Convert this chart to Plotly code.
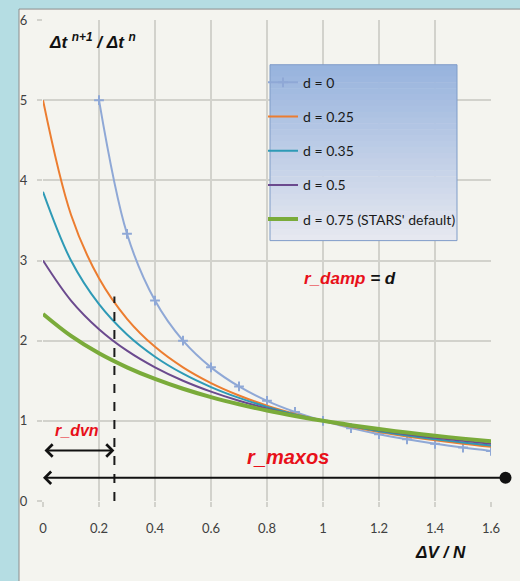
import plotly.graph_objects as go

# ---------------- data ----------------
x_d0 = [0.2, 0.3, 0.4, 0.5, 0.6, 0.7, 0.8, 0.9, 1.0, 1.1, 1.2, 1.3, 1.4, 1.5, 1.6]
y_d0 = [5.0, 3.333, 2.5, 2.0, 1.667, 1.429, 1.25, 1.111, 1.0, 0.909, 0.833, 0.769, 0.714, 0.667, 0.625]

x_all = [0.0, 0.1, 0.2, 0.3, 0.4, 0.5, 0.6, 0.7, 0.8, 0.9, 1.0, 1.1, 1.2, 1.3, 1.4, 1.5, 1.6]
y_d025 = [5.0, 3.571, 2.778, 2.273, 1.923, 1.667, 1.471, 1.316, 1.19, 1.087, 1.0, 0.926, 0.862, 0.806, 0.758, 0.714, 0.676]
y_d035 = [3.857, 3.0, 2.455, 2.077, 1.8, 1.588, 1.421, 1.286, 1.174, 1.08, 1.0, 0.931, 0.871, 0.818, 0.771, 0.73, 0.692]
y_d05 = [3.0, 2.5, 2.143, 1.875, 1.667, 1.5, 1.364, 1.25, 1.154, 1.071, 1.0, 0.9375, 0.882, 0.833, 0.789, 0.75, 0.714]
y_d075 = [2.333, 2.059, 1.842, 1.667, 1.522, 1.4, 1.296, 1.207, 1.129, 1.061, 1.0, 0.946, 0.897, 0.854, 0.814, 0.778, 0.745]

series_names = ["d = 0", "d = 0.25", "d = 0.35", "d = 0.5", "d = 0.75 (STARS' default)"]

x_ticks = [0, 0.2, 0.4, 0.6, 0.8, 1, 1.2, 1.4, 1.6]
x_tick_labels = ["0", "0.2", "0.4", "0.6", "0.8", "1", "1.2", "1.4", "1.6"]
y_ticks = [0, 1, 2, 3, 4, 5, 6]

r_dvn_x = 0.255
r_dvn_arrow_y = 0.63
r_maxos_y = 0.29

# ---------------- figure ----------------
W, H = 520, 581
ML, MR, MT, MB = 43, 29, 17, 80
PW, PH = W - ML - MR, H - MT - MB


def px2paper_x(px):
    return (px - ML) / PW


def px2paper_y(py):
    return 1 - (py - MT) / PH


font_fam = "Lato, 'Open Sans', sans-serif"
ital_fam = "'Liberation Sans', Arial, sans-serif"

fig = go.Figure()

fig.add_trace(go.Scatter(
    x=x_d0, y=y_d0, name=series_names[0], mode="lines+markers",
    line=dict(color="#8fa8d6", width=2, shape="spline"),
    marker=dict(symbol="cross-thin-open", size=7, line=dict(color="#8fa8d6", width=2)),
    legendgroup="g0",
))
colors = ["#ec7d30", "#2e9ab6", "#6b4a8e", "#7aab3a"]
widths = [2, 2, 2, 4]
for name, ys, c, w, g in zip(series_names[1:], [y_d025, y_d035, y_d05, y_d075], colors, widths,
                             ["g1", "g2", "g3", "g4"]):
    fig.add_trace(go.Scatter(
        x=x_all, y=ys, name=name, mode="lines",
        line=dict(color=c, width=w, shape="spline"),
        legendgroup=g,
    ))

shapes = []
# off-white panel
shapes.append(dict(type="rect", xref="paper", yref="paper",
                   x0=px2paper_x(19), x1=px2paper_x(530), y0=px2paper_y(590), y1=px2paper_y(6),
                   fillcolor="#f4f4ef", line=dict(color="#8c8c8c", width=1), layer="below"))

# legend box with vertical gradient
lx0, lx1, ly0, ly1 = 270, 457, 62, 239
n = 30
top_rgb = (152, 180, 222)
bot_rgb = (230, 232, 240)
for i in range(n):
    t = i / (n - 1)
    r = int(top_rgb[0] + (bot_rgb[0] - top_rgb[0]) * t)
    g = int(top_rgb[1] + (bot_rgb[1] - top_rgb[1]) * t)
    b = int(top_rgb[2] + (bot_rgb[2] - top_rgb[2]) * t)
    ya = ly0 + (ly1 - ly0) * i / n
    yb = ly0 + (ly1 - ly0) * (i + 1) / n
    shapes.append(dict(type="rect", xref="paper", yref="paper",
                       x0=px2paper_x(lx0), x1=px2paper_x(lx1),
                       y0=px2paper_y(yb + 0.5), y1=px2paper_y(ya),
                       fillcolor=f"rgb({r},{g},{b})", line=dict(width=0), layer="above"))
shapes.append(dict(type="rect", xref="paper", yref="paper",
                   x0=px2paper_x(lx0), x1=px2paper_x(lx1), y0=px2paper_y(ly1), y1=px2paper_y(ly0),
                   fillcolor="rgba(0,0,0,0)", line=dict(color="#7f9cc8", width=1), layer="above"))

# dashed r_dvn line
shapes.append(dict(type="line", xref="x", yref="y", x0=r_dvn_x, x1=r_dvn_x, y0=0, y1=2.55,
                   line=dict(color="#1a1a1a", width=2, dash="dash"), layer="above"))

annotations = [
    dict(x=px2paper_x(47), y=px2paper_y(38), xref="paper", yref="paper", xanchor="left", yanchor="middle",
         text="<b><i>Δt <sup>n+1</sup> / Δt <sup>n</sup></i></b>", showarrow=False,
         font=dict(family=ital_fam, size=17, color="#111111")),
    dict(x=px2paper_x(468), y=px2paper_y(553), xref="paper", yref="paper", xanchor="right", yanchor="middle",
         text="<b><i>ΔV / N</i></b>", showarrow=False,
         font=dict(family=ital_fam, size=17, color="#111111")),
    dict(x=px2paper_x(350), y=px2paper_y(277), xref="paper", yref="paper", xanchor="center", yanchor="middle",
         text="<b><i><span style='color:#e8101a'>r_damp</span> = d</i></b>", showarrow=False,
         font=dict(family=ital_fam, size=17, color="#111111")),
    dict(x=px2paper_x(77), y=px2paper_y(430), xref="paper", yref="paper", xanchor="center", yanchor="middle",
         text="<b><i>r_dvn</i></b>", showarrow=False,
         font=dict(family=ital_fam, size=16, color="#e8101a")),
    dict(x=px2paper_x(288), y=px2paper_y(457), xref="paper", yref="paper", xanchor="center", yanchor="middle",
         text="<b><i>r_maxos</i></b>", showarrow=False,
         font=dict(family=ital_fam, size=20, color="#e8101a")),
    # r_dvn double arrow
    dict(x=r_dvn_x, y=r_dvn_arrow_y, xref="x", yref="y", ax=0, ay=r_dvn_arrow_y, axref="x", ayref="y",
         text="", showarrow=True, arrowhead=4, startarrowhead=4, arrowside="end+start",
         arrowsize=1.2, startarrowsize=1.2, arrowwidth=2, arrowcolor="#111111"),
    # r_maxos arrow with dot
    dict(x=0, y=r_maxos_y, xref="x", yref="y", ax=464, ay=0,
         text="", showarrow=True, arrowhead=4, startarrowhead=6, arrowside="end+start",
         arrowsize=1.2, startarrowsize=1.5, arrowwidth=2, arrowcolor="#111111"),
]

fig.update_layout(
    width=W, height=H,
    margin=dict(l=ML, r=MR, t=MT, b=MB, pad=0),
    paper_bgcolor="#b5dde3",
    plot_bgcolor="#f4f4ef",
    shapes=shapes,
    annotations=annotations,
    showlegend=True,
    legend=dict(x=px2paper_x(263), y=px2paper_y(64), xanchor="left", yanchor="top",
                bgcolor="rgba(0,0,0,0)", borderwidth=0, tracegroupgap=13,
                font=dict(family=font_fam, size=14, color="#1a1a1a")),
    font=dict(family=font_fam, size=13, color="#404040"),
)
fig.update_xaxes(range=[0, 1.6], tickvals=x_ticks, ticktext=x_tick_labels, showgrid=True,
                 gridcolor="#d2d2cc", gridwidth=1.5, zeroline=False, showline=False,
                 ticks="outside", ticklen=5, tickcolor="#d2d2cc", tickwidth=1.5,
                 ticklabelstandoff=10, tickfont=dict(size=13, color="#404040"))
fig.update_yaxes(range=[0, 6], tickvals=y_ticks, showgrid=True,
                 gridcolor="#d2d2cc", gridwidth=1.5, zeroline=False, showline=False,
                 ticks="outside", ticklen=5, tickcolor="#d2d2cc", tickwidth=1.5,
                 ticklabelstandoff=7, tickfont=dict(size=13, color="#404040"))

fig.write_html("out.html")
